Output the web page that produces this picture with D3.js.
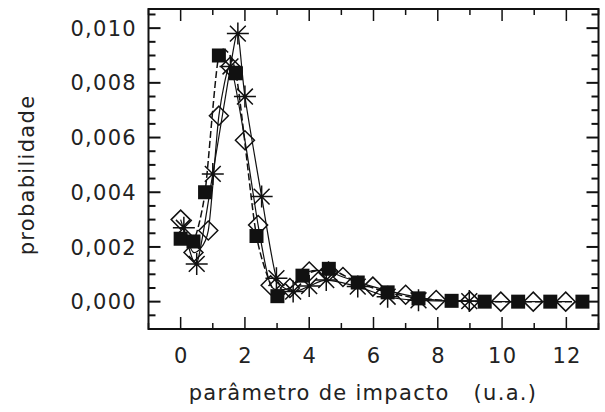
<!DOCTYPE html>
<html>
<head>
<meta charset="utf-8">
<script src="https://cdn.jsdelivr.net/npm/d3@7"></script>
<style>
  body { margin: 0; background: #fff; }
  svg { display: block; }
  text { font-family: "DejaVu Sans", sans-serif; fill: #222; letter-spacing: 1.3px; }
</style>
</head>
<body>
<svg id="chart" width="605" height="412"></svg>
<script>
// squares (filled)
var sqX = [0, 0.4, 0.76, 1.19, 1.72, 2.36, 3.01, 3.79, 4.61, 5.51, 6.44, 7.40, 8.43, 9.46, 10.5, 11.5, 12.5];
var sqY = [0.0023, 0.0022, 0.0040, 0.0090, 0.00835, 0.0024, 0.0002, 0.00095, 0.0012, 0.0007, 0.00034, 0.00012, 0.00003, 0, 0, 0, 0];
// diamonds (open)
var dmX = [0, 0.4, 0.86, 1.19, 1.55, 2.0, 2.41, 2.8, 3.4, 4.0, 4.6, 5.05, 5.98, 7.0, 7.95, 9.0, 9.96, 10.97, 11.98];
var dmY = [0.0030, 0.0018, 0.0026, 0.0068, 0.0086, 0.0059, 0.0028, 0.0006, 0.0005, 0.0011, 0.0011, 0.0009, 0.00055, 0.00025, 0.00006, 0.00002, 0, 0, 0];
// asterisks
var stX = [0.1, 0.5, 1.0, 1.55, 1.78, 2.0, 2.52, 2.98, 3.5, 4.0, 4.53, 5.51, 6.44, 7.4, 8.98];
var stY = [0.0027, 0.00138, 0.00467, 0.0086, 0.0098, 0.0075, 0.00384, 0.00086, 0.00037, 0.00057, 0.00079, 0.00055, 0.00018, 0.00005, 0.00002];

var xTicks = [0, 2, 4, 6, 8, 10, 12];
var yTicks = [0, 0.002, 0.004, 0.006, 0.008, 0.010];

var svg = d3.select("#chart");
var pLeft = 148.5, pRight = 598.5, pTop = 9, pBottom = 329;

var x = d3.scaleLinear().domain([-1, 13]).range([pLeft, pRight]);
var y = d3.scaleLinear().domain([-0.001, 0.0107]).range([pBottom, pTop]);

var fmt = function(d) { return d3.format(".3f")(d).replace(".", ","); };

// minor ticks
var xMinor = d3.range(-1, 13.01, 1);
var yMinor = d3.range(-0.001, 0.0107, 0.0005);

var ticks = svg.append("g").attr("stroke", "#111");
xMinor.forEach(function(v) {
	var len = (Math.round(v) % 2 === 0) ? 12 : 6;
	ticks.append("line").attr("x1", x(v)).attr("x2", x(v)).attr("y1", pBottom).attr("y2", pBottom - len).attr("stroke-width", 1.5);
	ticks.append("line").attr("x1", x(v)).attr("x2", x(v)).attr("y1", pTop).attr("y2", pTop + len).attr("stroke-width", 1.5);
});
yMinor.forEach(function(v) {
	var k = Math.round(v / 0.0005);
	var len = (k % 4 === 0) ? 12 : 7;
	ticks.append("line").attr("x1", pLeft).attr("x2", pLeft + len).attr("y1", y(v)).attr("y2", y(v)).attr("stroke-width", 2);
	ticks.append("line").attr("x1", pRight).attr("x2", pRight - len).attr("y1", y(v)).attr("y2", y(v)).attr("stroke-width", 2);
});

// frame
svg.append("rect")
	.attr("x", pLeft).attr("y", pTop)
	.attr("width", pRight - pLeft).attr("height", pBottom - pTop)
	.attr("fill", "none").attr("stroke", "#111").attr("stroke-width", 2);

// tick labels
svg.append("g").selectAll("text").data(xTicks).join("text")
	.attr("x", function(d) { return x(d) + 0.7; })
	.attr("y", 363)
	.attr("text-anchor", "middle")
	.attr("font-size", 21)
	.text(function(d) { return d; });

svg.append("g").selectAll("text").data(yTicks).join("text")
	.attr("x", 137)
	.attr("y", function(d) { return y(d); })
	.attr("dy", "0.36em")
	.attr("text-anchor", "end")
	.attr("font-size", 21)
	.text(fmt);

// axis titles
svg.append("text")
	.attr("x", 363).attr("y", 400)
	.attr("text-anchor", "middle")
	.attr("font-size", 21)
	.attr("xml:space", "preserve")
	.text("parâmetro de impacto   (u.a.)");

svg.append("text")
	.attr("transform", "translate(34,175) rotate(-90)")
	.attr("text-anchor", "middle")
	.attr("font-size", 21)
	.text("probabilidade");

// lines
function pts(xs, ys) { return xs.map(function(v, i) { return [v, ys[i]]; }); }
var line = d3.line()
	.x(function(d) { return x(d[0]); })
	.y(function(d) { return y(d[1]); })
	.curve(d3.curveCardinal.tension(0.3));

svg.append("path").attr("d", line(pts(dmX, dmY)))
	.attr("fill", "none").attr("stroke", "#111").attr("stroke-width", 1.2);
svg.append("path").attr("d", line(pts(stX, stY)))
	.attr("fill", "none").attr("stroke", "#111").attr("stroke-width", 1.2);
svg.append("path").attr("d", line(pts(sqX, sqY)))
	.attr("fill", "none").attr("stroke", "#111").attr("stroke-width", 1.5)
	.attr("stroke-dasharray", "7,3");

// diamonds
svg.append("g").selectAll("path").data(pts(dmX, dmY)).join("path")
	.attr("d", function(d) {
		var cx = x(d[0]), cy = y(d[1]), r = 9.5;
		return "M" + cx + "," + (cy - r) + "L" + (cx + r) + "," + cy + "L" + cx + "," + (cy + r) + "L" + (cx - r) + "," + cy + "Z";
	})
	.attr("fill", "none").attr("stroke", "#111").attr("stroke-width", 1.5);

// asterisks
svg.append("g").selectAll("path").data(pts(stX, stY)).join("path")
	.attr("d", function(d) {
		var cx = x(d[0]), cy = y(d[1]), r = 11, s = r * 0.72;
		return "M" + cx + "," + (cy - r) + "L" + cx + "," + (cy + r) +
			"M" + (cx - r) + "," + cy + "L" + (cx + r) + "," + cy +
			"M" + (cx - s) + "," + (cy - s) + "L" + (cx + s) + "," + (cy + s) +
			"M" + (cx - s) + "," + (cy + s) + "L" + (cx + s) + "," + (cy - s);
	})
	.attr("fill", "none").attr("stroke", "#111").attr("stroke-width", 1.5);

// squares
svg.append("g").selectAll("rect").data(pts(sqX, sqY)).join("rect")
	.attr("x", function(d) { return x(d[0]) - 7; })
	.attr("y", function(d) { return y(d[1]) - 7; })
	.attr("width", 14).attr("height", 14)
	.attr("fill", "#111");
</script>
</body>
</html>
